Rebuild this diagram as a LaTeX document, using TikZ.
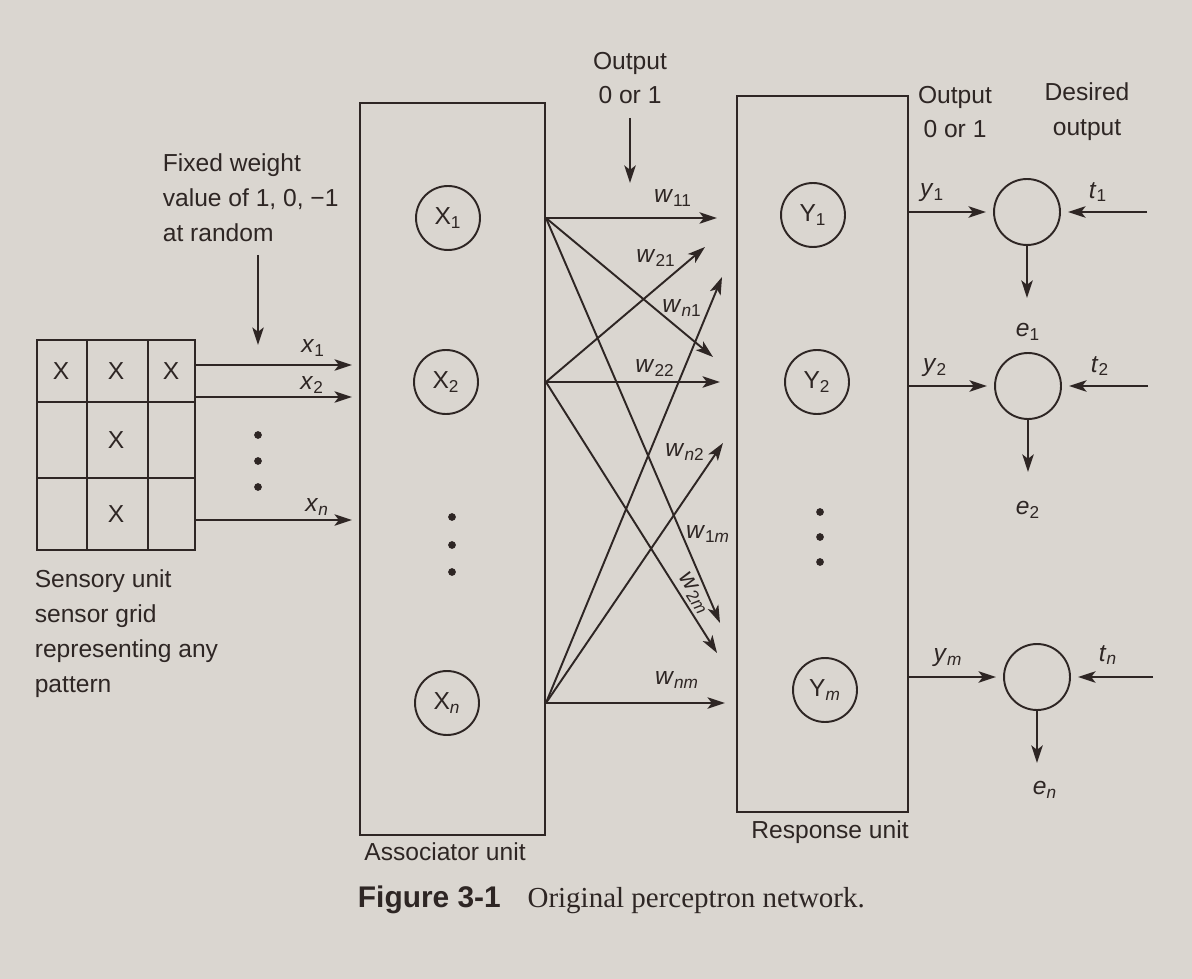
\documentclass[tikz,border=0pt]{standalone}
\usepackage{fontspec}
\setmainfont{Liberation Serif}
\setsansfont{Liberation Sans}
\usepackage{xcolor}
\usetikzlibrary{arrows.meta, calc}
\definecolor{pPaper}{HTML}{DAD6D0}
\definecolor{pInk}{HTML}{2E2624}

\begin{document}
\begin{tikzpicture}[x=0.02cm, y=-0.02cm, pInk, line width=1.1pt,
  every node/.style={font=\sffamily\fontsize{14}{19.8}\selectfont, text=pInk},
  neuron/.style={draw, circle, minimum size=1.28cm, inner sep=0pt},
  errnode/.style={draw, circle, minimum size=1.32cm, inner sep=0pt},
  arr/.style={-{Stealth[length=10pt, width=6.5pt, inset=2.5pt]}},
  note/.style={align=left, anchor=north west},
]
  \path[fill=pPaper] (0,0) rectangle (1192,979);

  \node[draw, minimum width=3.16cm, minimum height=4.2cm, inner sep=0pt] (grid) at (116,445) {};
  \draw (87,340) -- (87,550) (148,340) -- (148,550) (37,402) -- (195,402) (37,478) -- (195,478);
  \node (g11) at (61,371) {X};
  \node (g12) at (116,371) {X};
  \node (g13) at (171,371) {X};
  \node (g22) at (116,440) {X};
  \node (g32) at (116,514) {X};
  \node[note] (sensory) at (28,563) {Sensory unit\\sensor grid\\representing any\\pattern};

  \node[note] (fixed) at (156,147) {Fixed weight\\value of 1, 0, −1\\at random};
  \coordinate (fwtop) at (258,255);
  \coordinate (fwtip) at (258,345);
  \draw[arr] (fwtop) -- (fwtip);

  \coordinate (a1) at (352,365);
  \coordinate (a2) at (352,397);
  \coordinate (an) at (352,520);
  \draw[arr] (grid.east |- a1) -- (a1);
  \draw[arr] (grid.east |- a2) -- (a2);
  \draw[arr] (grid.east |- an) -- (an);
  \node (lx1) at (313,348) {\textit{x}\textsubscript{1}};
  \node (lx2) at (312,385) {\textit{x}\textsubscript{2}};
  \node (lxn) at (317,507) {\textit{x}\textsubscript{\textit{n}}};
  \foreach \y in {435,461,487} \fill (258,\y) circle (2.2pt);

  \node[draw, minimum width=3.7cm, minimum height=14.64cm] (assoc) at (452.5,469) {};
  \node[neuron] (X1) at (448,218) {X\textsubscript{1}};
  \node[neuron] (X2) at (446,382) {X\textsubscript{2}};
  \node[neuron] (Xn) at (447,703) {X\textsubscript{\textit{n}}};
  \foreach \y in {517,545,572} \fill (452,\y) circle (2.2pt);
  \node (assoclbl) at (445,852) {Associator unit};

  \node[draw, minimum width=3.42cm, minimum height=14.32cm] (resp) at (822.5,454) {};
  \node[neuron] (Y1) at (813,215) {Y\textsubscript{1}};
  \node[neuron] (Y2) at (817,382) {Y\textsubscript{2}};
  \node[neuron] (Ym) at (825,690) {Y\textsubscript{\textit{m}}};
  \foreach \y in {512,537,562} \fill (820,\y) circle (2.2pt);
  \node (resplbl) at (830,832) {Response unit};

  \node[align=center] (outa) at (630,78) {Output\\0 or 1};
  \coordinate (outtip) at (630,183);
  \draw[arr] ([yshift=-4pt]outa.south) -- (outtip);

  \coordinate (s1) at (assoc.east |- X1);
  \coordinate (s2) at (assoc.east |- X2);
  \coordinate (sn) at (assoc.east |- Xn);
  \coordinate (t11) at (717,218);
  \coordinate (t21) at (705,247);
  \coordinate (tn1) at (722,277);
  \coordinate (t12) at (713,357);
  \coordinate (t22) at (720,382);
  \coordinate (tn2) at (723,443);
  \coordinate (t1m) at (720,623);
  \coordinate (t2m) at (717,653);
  \coordinate (tnm) at (725,703);
  \foreach \s/\t in {s1/t11, s1/t12, s1/t1m, s2/t21, s2/t22, s2/t2m, sn/tn1, sn/tn2, sn/tnm}
    \draw[arr] (\s) -- (\t);
  \node (w11) at (673,198) {\textit{w}\textsubscript{11}};
  \node (w21) at (656,258) {\textit{w}\textsubscript{21}};
  \node (wn1) at (682,308) {\textit{w}\textsubscript{\textit{n}1}};
  \node (w22) at (655,368) {\textit{w}\textsubscript{22}};
  \node (wn2) at (685,452) {\textit{w}\textsubscript{\textit{n}2}};
  \node[inner sep=0pt] (w1m) at (708,534) {\textit{w}\textsubscript{1\textit{m}}};
  \node[rotate=-57, inner sep=0pt] (w2m) at (694,593) {\textit{w}\textsubscript{2\textit{m}}};
  \node (wnm) at (677,680) {\textit{w}\textsubscript{\textit{nm}}};

  \node[align=center] (outb) at (955,112) {Output\\0 or 1};
  \node[align=center] (desired) at (1087,112) {Desired\\output};

  \node[errnode] (e1c) at (1027,212) {};
  \node[errnode] (e2c) at (1028,386) {};
  \node[errnode] (enc) at (1037,677) {};
  \coordinate (t1s) at (1147,212);
  \coordinate (t2s) at (1148,386);
  \coordinate (tns) at (1153,677);
  \draw[arr, shorten >=4pt] (resp.east |- e1c) -- (e1c.west);
  \draw[arr, shorten >=4pt] (resp.east |- e2c) -- (e2c.west);
  \draw[arr, shorten >=4pt] (resp.east |- enc) -- (enc.west);
  \draw[arr, shorten >=4pt] (t1s) -- (e1c.east);
  \draw[arr, shorten >=4pt] (t2s) -- (e2c.east);
  \draw[arr, shorten >=4pt] (tns) -- (enc.east);
  \draw[arr] (e1c.south) -- ++(0,52);
  \draw[arr] (e2c.south) -- ++(0,52);
  \draw[arr] (enc.south) -- ++(0,52);
  \node (ly1) at (932,193) {\textit{y}\textsubscript{1}};
  \node (ly2) at (935,368) {\textit{y}\textsubscript{2}};
  \node (lym) at (948,658) {\textit{y}\textsubscript{\textit{m}}};
  \node (lt1) at (1098,192) {\textit{t}\textsubscript{1}};
  \node (lt2) at (1100,366) {\textit{t}\textsubscript{2}};
  \node (ltn) at (1108,655) {\textit{t}\textsubscript{\textit{n}}};
  \node (le1) at (1028,332) {\textit{e}\textsubscript{1}};
  \node (le2) at (1028,510) {\textit{e}\textsubscript{2}};
  \node (len) at (1045,790) {\textit{e}\textsubscript{\textit{n}}};

  \node[anchor=base west, inner sep=0pt] (caption) at (357,907) {\fontsize{17}{19}\selectfont\bfseries Figure 3-1\hspace{0.9em}%
    \rmfamily\mdseries\fontsize{16.5}{19}\selectfont Original perceptron network.};
\end{tikzpicture}
\end{document}
